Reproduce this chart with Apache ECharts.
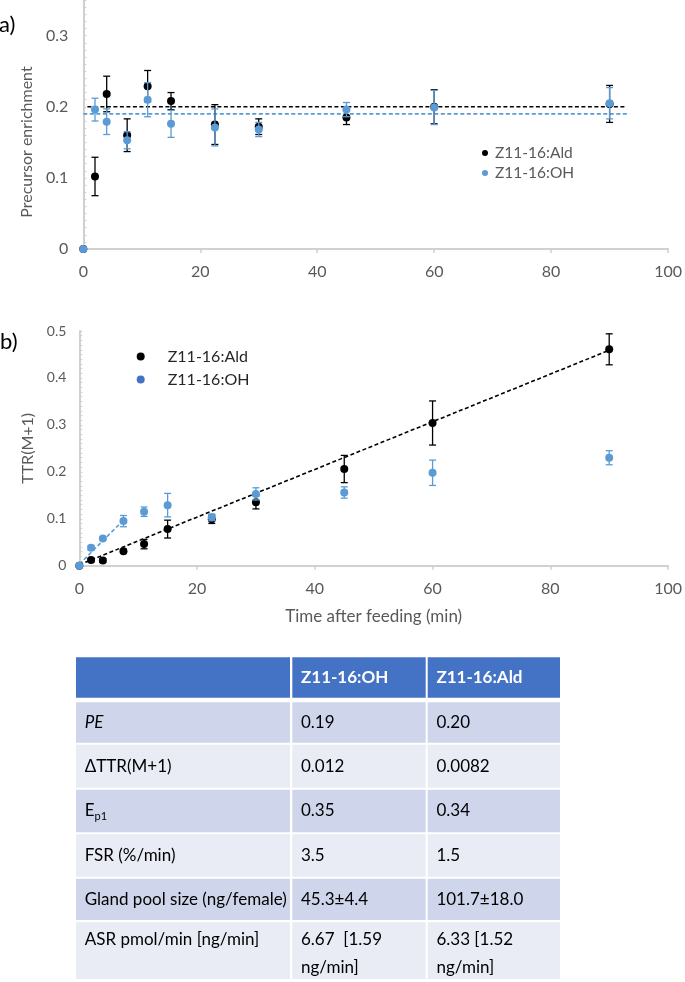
<!DOCTYPE html>
<html><head><meta charset="utf-8">
<script src="https://cdn.jsdelivr.net/npm/echarts@6/dist/echarts.min.js"></script>
<style>html,body{margin:0;padding:0;background:#fff}#c{width:685px;height:982px}</style>
</head><body><div id="c"></div>
<script>
// ---------- data ----------
const times = [0, 2, 4, 7.5, 11, 15, 22.5, 30, 45, 60, 90];
const seriesNames = ['Z11-16:Ald', 'Z11-16:OH'];
// panel a: precursor enrichment
const peAld    = [0, 0.102, 0.218, 0.160, 0.229, 0.208, 0.175, 0.172, 0.185, 0.200, 0.204];
const peAldErr = [0, 0.027, 0.025, 0.023, 0.022, 0.012, 0.028, 0.011, 0.010, 0.024, 0.026];
const peOh     = [0, 0.196, 0.179, 0.153, 0.210, 0.176, 0.171, 0.168, 0.196, 0.199, 0.205];
const peOhErr  = [0, 0.016, 0.018, 0.012, 0.024, 0.019, 0.026, 0.010, 0.010, 0.024, 0.022];
const peAldMeanLine = [[0.7, 0.200], [92.8, 0.200]];
const peOhMeanLine  = [[0.0, 0.190], [93.2, 0.190]];
// panel b: TTR(M+1)
const ttrAld    = [0, 0.012, 0.011, 0.031, 0.046, 0.078, 0.099, 0.135, 0.206, 0.304, 0.461];
const ttrAldErr = [0, 0.004, 0.004, 0.004, 0.010, 0.019, 0.009, 0.014, 0.029, 0.047, 0.033];
const ttrOh     = [0, 0.038, 0.058, 0.095, 0.115, 0.129, 0.103, 0.153, 0.156, 0.198, 0.230];
const ttrOhErr  = [0, 0.005, 0.003, 0.012, 0.010, 0.025, 0.007, 0.013, 0.012, 0.027, 0.015];
const ttrAldTrend = [[0, 0.002], [90, 0.459]];
const ttrOhTrend  = [[0, 0.003], [7.5, 0.097]];
// axis ticks
const xTicksMax = 100;
const yTicksA = [0, 0.1, 0.2, 0.3];
const yTicksB = [0, 0.1, 0.2, 0.3, 0.4, 0.5];
// table
const tableHead = ['', 'Z11-16:OH', 'Z11-16:Ald'];
const tableRows = [
  ['{it|PE}', '0.19', '0.20'],
  ['\u0394TTR(M+1)', '0.012', '0.0082'],
  ['E{sub|p1}', '0.35', '0.34'],
  ['FSR (%/min)', '3.5', '1.5'],
  ['Gland pool size (ng/female)', '45.3\u00b14.4', '101.7\u00b118.0'],
  ['ASR pmol/min [ng/min]', '6.67  [1.59\nng/min]', '6.33 [1.52\nng/min]']
];

// ---------- styles ----------
const FONT = 'Lato, "Open Sans", sans-serif';
const BLACK = '#000000', BLUE = '#5b9bd5', BLUE2 = '#4472c4';
const AXIS = '#d0d0d0', LABEL = '#595959';

const pts = (vals) => times.map((t, i) => [t, vals[i]]);
const errPts = (vals, errs) => times.map((t, i) => [t, vals[i], errs[i]]);

function errBars(color) {
  return function (params, api) {
    const x = api.value(0), y = api.value(1), e = api.value(2);
    if (!e) return { type: 'group', children: [] };
    const top = api.coord([x, y + e]), bot = api.coord([x, y - e]);
    const hw = 3.5;
    const style = { stroke: color, lineWidth: 1.3 };
    return { type: 'group', children: [
      { type: 'line', shape: { x1: top[0], y1: top[1], x2: bot[0], y2: bot[1] }, style },
      { type: 'line', shape: { x1: top[0] - hw, y1: top[1], x2: top[0] + hw, y2: top[1] }, style },
      { type: 'line', shape: { x1: bot[0] - hw, y1: bot[1], x2: bot[0] + hw, y2: bot[1] }, style }
    ]};
  };
}

function xAxisCfg(gi, extra) {
  return Object.assign({
    gridIndex: gi, type: 'value', min: 0, max: xTicksMax, interval: 20,
    axisLine: { show: true, lineStyle: { color: AXIS, width: 2 } },
    axisTick: { show: true, length: 4, lineStyle: { color: AXIS, width: 1.5 } },
    axisLabel: { fontSize: 16, color: LABEL, margin: 15, fontFamily: FONT },
    splitLine: { show: false }
  }, extra || {});
}
function yLabelFmt(list) {
  return (v) => {
    const k = Math.round(v * 100);
    const hit = list.find(t => Math.round(t * 100) === k);
    return hit === undefined ? '' : String(hit);
  };
}

const option = {
  animation: false,
  backgroundColor: '#ffffff',
  textStyle: { fontFamily: FONT },
  grid: [
    { left: 83.3, width: 588.4, top: 0.1, height: 248.9 },
    { left: 79.3, width: 589, top: 331, height: 234.7 }
  ],
  xAxis: [
    xAxisCfg(0),
    xAxisCfg(1, { name: 'Time after feeding (min)', nameLocation: 'middle', nameGap: 42,
      nameTextStyle: { fontSize: 17, color: LABEL, fontFamily: FONT } })
  ],
  yAxis: [
    { gridIndex: 0, type: 'value', min: 0, max: 0.35, interval: 0.05,
      axisLine: { show: true, lineStyle: { color: AXIS, width: 2 } },
      axisTick: { show: true, inside: true, length: 3, lineStyle: { color: AXIS, width: 1.2 } },
      minorTick: { show: true, splitNumber: 5, length: 3, lineStyle: { color: AXIS, width: 1.2 } },
      axisLabel: { fontSize: 16, color: LABEL, margin: 15, formatter: yLabelFmt(yTicksA), fontFamily: FONT },
      splitLine: { show: false },
      name: 'Precursor enrichment', nameLocation: 'middle', nameGap: 42,
      nameTextStyle: { fontSize: 16, color: LABEL, padding: [0, 35, 0, 0], fontFamily: FONT } },
    { gridIndex: 1, type: 'value', min: 0, max: 0.5, interval: 0.1,
      axisLine: { show: true, lineStyle: { color: AXIS, width: 2 } },
      axisTick: { show: true, inside: true, length: 3, lineStyle: { color: AXIS, width: 1.2 } },
      minorTick: { show: true, splitNumber: 10, length: 3, lineStyle: { color: AXIS, width: 1.2 } },
      axisLabel: { fontSize: 14, color: LABEL, margin: 13, formatter: yLabelFmt(yTicksB), fontFamily: FONT },
      splitLine: { show: false },
      name: 'TTR(M+1)', nameLocation: 'middle', nameGap: 38,
      nameTextStyle: { fontSize: 16, color: LABEL, fontFamily: FONT } }
  ],
  legend: [
    { orient: 'vertical', left: 482, top: 143, padding: 0, itemGap: 0, icon: 'circle',
      itemWidth: 10, itemHeight: 6, selectedMode: false,
      textStyle: { fontSize: 15.5, color: LABEL, lineHeight: 20, fontFamily: FONT },
      data: [{ name: seriesNames[0], itemStyle: { color: BLACK } },
             { name: seriesNames[1], itemStyle: { color: BLUE } }] },
    { orient: 'vertical', left: 136.7, top: 345, padding: 0, itemGap: 0, icon: 'circle',
      itemWidth: 44, itemHeight: 8, selectedMode: false,
      textStyle: { fontSize: 16, color: '#262626', lineHeight: 23, fontFamily: FONT },
      data: [{ name: seriesNames[0], itemStyle: { color: BLACK } },
             { name: seriesNames[1], itemStyle: { color: BLUE2 } }] }
  ],
  series: [
    // panel a
    { type: 'line', xAxisIndex: 0, yAxisIndex: 0, data: peAldMeanLine, symbol: 'none', silent: true, z: 1,
      lineStyle: { color: BLACK, width: 1.6, type: [4, 2.5] } },
    { type: 'line', xAxisIndex: 0, yAxisIndex: 0, data: peOhMeanLine, symbol: 'none', silent: true, z: 1,
      lineStyle: { color: BLUE, width: 1.6, type: [4, 2.5] } },
    { type: 'custom', xAxisIndex: 0, yAxisIndex: 0, data: errPts(peAld, peAldErr), renderItem: errBars(BLACK), z: 2,
      encode: { x: 0, y: 1 } },
    { name: seriesNames[0], type: 'scatter', xAxisIndex: 0, yAxisIndex: 0, data: pts(peAld), symbolSize: 8, z: 3,
      itemStyle: { color: BLACK, opacity: 1 } },
    { type: 'custom', xAxisIndex: 0, yAxisIndex: 0, data: errPts(peOh, peOhErr), renderItem: errBars(BLUE), z: 4,
      encode: { x: 0, y: 1 } },
    { name: seriesNames[1], type: 'scatter', xAxisIndex: 0, yAxisIndex: 0, data: pts(peOh), symbolSize: 8, z: 5,
      itemStyle: { color: BLUE, opacity: 1 } },
    // panel b
    { type: 'line', xAxisIndex: 1, yAxisIndex: 1, data: ttrAldTrend, symbol: 'none', silent: true, z: 1,
      lineStyle: { color: BLACK, width: 1.6, type: [4, 2.5] } },
    { type: 'line', xAxisIndex: 1, yAxisIndex: 1, data: ttrOhTrend, symbol: 'none', silent: true, z: 1,
      lineStyle: { color: BLUE, width: 1.6, type: [4, 2.5] } },
    { type: 'custom', xAxisIndex: 1, yAxisIndex: 1, data: errPts(ttrAld, ttrAldErr), renderItem: errBars(BLACK), z: 2,
      encode: { x: 0, y: 1 } },
    { name: seriesNames[0], type: 'scatter', xAxisIndex: 1, yAxisIndex: 1, data: pts(ttrAld), symbolSize: 8, z: 3,
      itemStyle: { color: BLACK, opacity: 1 } },
    { type: 'custom', xAxisIndex: 1, yAxisIndex: 1, data: errPts(ttrOh, ttrOhErr), renderItem: errBars(BLUE), z: 4,
      encode: { x: 0, y: 1 } },
    { name: seriesNames[1], type: 'scatter', xAxisIndex: 1, yAxisIndex: 1, data: pts(ttrOh), symbolSize: 8, z: 5,
      itemStyle: { color: BLUE, opacity: 1 } }
  ],
  graphic: []
};

// panel letters
option.graphic.push({ type: 'text', x: -1, y: 25, style: { text: 'a)', fontSize: 22, fill: '#000', fontFamily: FONT, verticalAlign: 'middle' } });
option.graphic.push({ type: 'text', x: 0, y: 342, style: { text: 'b)', fontSize: 22, fill: '#000', fontFamily: FONT, verticalAlign: 'middle' } });

// table layout
const colBounds = [[76, 290], [292.3, 425.7], [427.7, 560]];
const rowBounds = [[657.3, 697.7], [702.3, 742.7], [744.7, 787.7], [789.7, 832.3], [834.3, 876.7], [878.7, 920], [922.3, 979]];
const fills = ['#4472c4', '#cfd5ea', '#e9ebf5'];
const rich = {
  it: { fontStyle: 'italic', fontSize: 17, fontFamily: FONT, fill: '#000' },
  sub: { fontSize: 11, fontFamily: FONT, fill: '#000', verticalAlign: 'bottom', lineHeight: 11 }
};
const allRows = [tableHead].concat(tableRows);
allRows.forEach((row, r) => {
  const [y0, y1] = rowBounds[r];
  const fill = r === 0 ? fills[0] : (r % 2 === 1 ? fills[1] : fills[2]);
  row.forEach((cell, c) => {
    const [x0, x1] = colBounds[c];
    option.graphic.push({ type: 'rect', shape: { x: x0, y: y0, width: x1 - x0, height: y1 - y0 }, style: { fill }, silent: true, z: 0 });
    if (!cell) return;
    const last = r === allRows.length - 1;
    option.graphic.push({ type: 'text', x: x0 + 8.7, y: last ? 926 : (y0 + y1) / 2, z: 1, silent: true,
      style: { text: cell, rich, fontSize: 17, fontFamily: FONT, fontWeight: r === 0 ? 'bold' : 'normal',
        fill: r === 0 ? '#ffffff' : '#000000', verticalAlign: last ? 'top' : 'middle', lineHeight: last ? 28 : 22 } });
  });
});

const chart = echarts.init(document.getElementById('c'), null, { renderer: 'canvas' });
chart.setOption(option);
</script></body></html>
